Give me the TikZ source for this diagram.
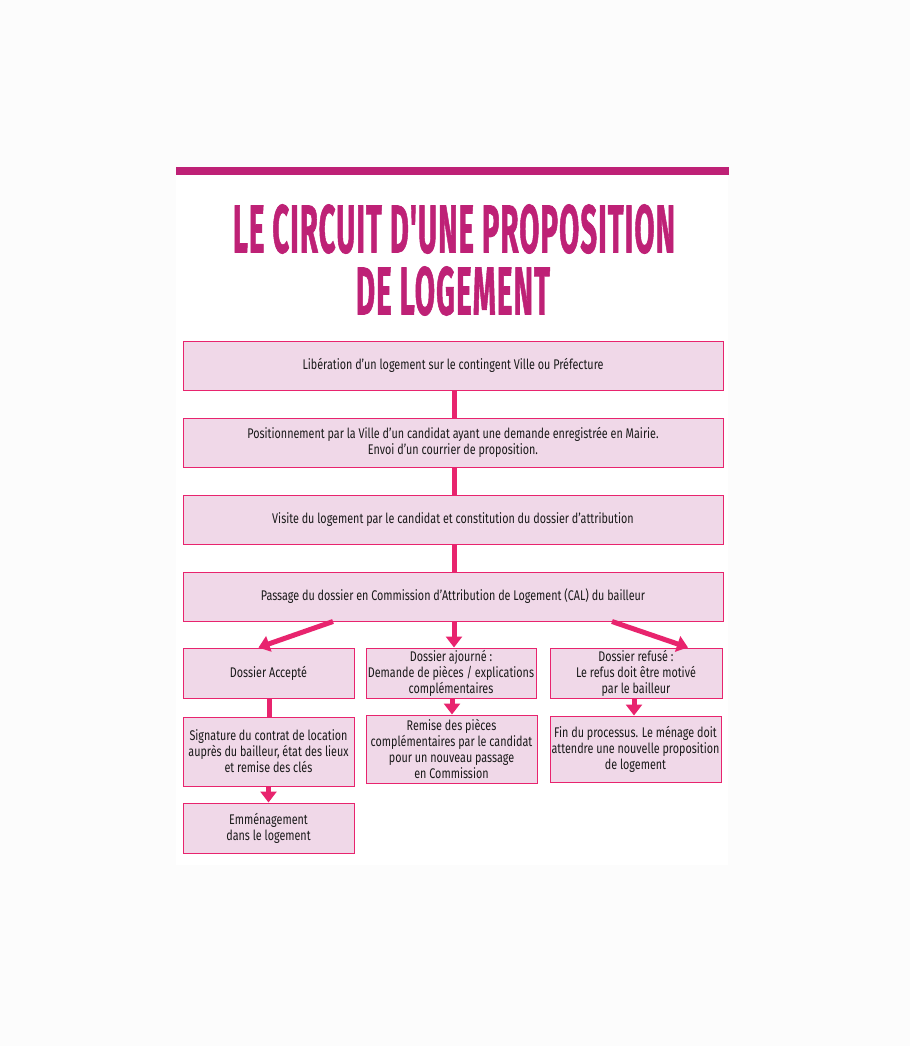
\documentclass[tikz,border=0pt]{standalone}
\usepackage{fontspec}
\setmainfont{Fira Sans}[FakeStretch=0.77]
\newfontfamily\titlefont{Fira Sans}[FakeBold=1.5,LetterSpace=4]
\usetikzlibrary{arrows.meta}
\definecolor{magbar}{HTML}{BE2176}
\definecolor{boxfill}{HTML}{F0D8E8}
\definecolor{boxline}{HTML}{E8246E}
\definecolor{conncol}{HTML}{E8246E}
\definecolor{txt}{HTML}{1A1A1A}
\definecolor{pagebg}{HTML}{FCFCFC}
\tikzset{
  stepbox/.style={draw=boxline, line width=1pt, fill=boxfill, inner sep=0pt,
    align=center, text=txt, font=\fontsize{14}{16}\selectfont},
  conn/.style={draw=conncol, line width=5pt},
  arr/.style={conn, -{Triangle[width=16pt,length=11pt]}},
  titletext/.style={text=magbar, inner sep=0pt}
}
\begin{document}
\begin{tikzpicture}[x=1pt,y=-1pt]
\fill[pagebg] (0,0) rectangle (910,1046);
\useasboundingbox (0,0) rectangle (910,1046);
\fill[white] (176,167) rectangle (728,865);
\fill[magbar] (176,167) rectangle (729,175);

\node[titletext] (t1) at (454,229) {\resizebox{442pt}{48pt}{\titlefont\bfseries LE CIRCUIT D'UNE PROPOSITION}};
\node[titletext] (t2) at (453,291) {\resizebox{194pt}{48pt}{\titlefont\bfseries DE LOGEMENT}};

\node[stepbox, minimum width=540pt, minimum height=49pt] (b1) at (453,365.5)
  {Libération d’un logement sur le contingent Ville ou Préfecture};
\node[stepbox, minimum width=540pt, minimum height=49pt] (b2) at (453,442.5)
  {Positionnement par la Ville d’un candidat ayant une demande enregistrée en Mairie.\\Envoi d’un courrier de proposition.};
\node[stepbox, minimum width=540pt, minimum height=49pt] (b3) at (453,519.5)
  {Visite du logement par le candidat et constitution du dossier d’attribution};
\node[stepbox, minimum width=540pt, minimum height=49pt] (b4) at (453,596.5)
  {Passage du dossier en Commission d’Attribution de Logement (CAL) du bailleur};

\node[stepbox, minimum width=171pt, minimum height=50pt] (acc) at (268.5,673)
  {Dossier Accepté};
\node[stepbox, minimum width=170pt, minimum height=50pt] (ajo) at (451,673)
  {Dossier ajourné :\\Demande de pièces / explications\\complémentaires};
\node[stepbox, minimum width=172pt, minimum height=50pt] (ref) at (636,673)
  {Dossier refusé :\\Le refus doit être motivé\\par le bailleur};

\node[stepbox, minimum width=171pt, minimum height=69pt] (sig) at (268.5,751.5)
  {Signature du contrat de location\\auprès du bailleur, état des lieux\\et remise des clés};
\node[stepbox, minimum width=171pt, minimum height=68pt] (rem) at (451.5,749)
  {Remise des pièces\\complémentaires par le candidat\\pour un nouveau passage\\en Commission};
\node[stepbox, minimum width=171pt, minimum height=66pt] (fin) at (635.5,749)
  {Fin du processus. Le ménage doit\\attendre une nouvelle proposition\\de logement};

\node[stepbox, minimum width=171pt, minimum height=50pt] (emm) at (268.5,828)
  {Emménagement\\dans le logement};

\draw[conn] ([xshift=1pt]b1.south) -- ([xshift=1pt]b2.north);
\draw[conn] ([xshift=1pt]b2.south) -- ([xshift=1pt]b3.north);
\draw[conn] ([xshift=1pt]b3.south) -- ([xshift=1pt]b4.north);

\draw[arr] ([xshift=-120pt]b4.south) -- ([xshift=-10pt]acc.north);
\draw[arr] ([xshift=1pt]b4.south) -- ([xshift=1pt]b4.south |- ajo.north);
\draw[arr] ([xshift=159pt]b4.south) -- ([xshift=52pt]ref.north);

\draw[conn] ([xshift=1pt]acc.south) -- ([xshift=1pt]acc.south |- sig.north);
\draw[arr] ([xshift=1pt]ajo.south) -- ([xshift=1pt]ajo.south |- rem.north);
\draw[arr] ([xshift=-2pt]ref.south) -- ([xshift=-2pt]ref.south |- fin.north);
\draw[arr] (sig.south) -- (sig.south |- emm.north);
\end{tikzpicture}
\end{document}
